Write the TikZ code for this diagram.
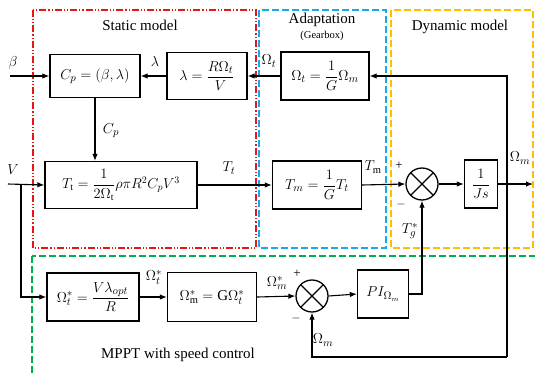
\documentclass[tikz,border=0pt]{standalone}
\usepackage{amsmath}
\usepackage{fontspec}
\setmainfont{Liberation Serif}
\usetikzlibrary{arrows.meta,calc,positioning}

\definecolor{redbox}{RGB}{235,20,20}
\definecolor{bluebox}{RGB}{20,170,235}
\definecolor{yellowbox}{RGB}{255,190,0}
\definecolor{greenbox}{RGB}{0,175,80}

\begin{document}
\begin{tikzpicture}[x=1pt,y=-1pt]

\tikzset{block/.style = {draw,line width=1.3pt,inner sep=1pt,font=\fontsize{15}{17}\selectfont}}
\tikzset{summer/.style = {draw,circle,line width=1.3pt,minimum size=32pt,inner sep=0pt,
  path picture={\draw[line width=1.3pt] (path picture bounding box.north west) -- (path picture bounding box.south east)
  (path picture bounding box.north east) -- (path picture bounding box.south west);}}}
\tikzset{edge1/.style = {-{Latex[length=7pt,width=5.5pt]},line width=1.1pt}}
\tikzset{wire/.style = {line width=1.1pt}}
\tikzset{lbl/.style = {font=\fontsize{15}{17}\selectfont}}
\tikzset{sign/.style = {font=\fontsize{13}{15}\selectfont}}

\useasboundingbox (0,0) rectangle (535,375);

% regions
\draw[redbox,line width=1.1pt,dash pattern=on 7pt off 2pt on 1.2pt off 2pt on 1.2pt off 2pt]
  (33,10) rectangle (256,248);
\draw[bluebox,line width=1.1pt,dash pattern=on 7pt off 3pt]
  (259,10) rectangle (386,248);
\draw[yellowbox,line width=1.1pt,dash pattern=on 7pt off 3pt]
  (391,10) rectangle (533,248);
\draw[greenbox,line width=1.1pt,dash pattern=on 7pt off 3pt]
  (32,256) rectangle (545,385);

\node[lbl] (static) at (140,25) {Static model};
\node[lbl] (adapt) at (322,20) {Adaptation};
\node[font=\fontsize{10.5}{12}\selectfont] (gear) at (322,36) {(Gearbox)};
\node[lbl] (dyn) at (460,27) {Dynamic model};
\node[lbl] (mppt) at (178,355) {MPPT with speed control};

% blocks
\node[block,minimum width=90pt,minimum height=43pt] (cp) at (95,76) {$C_p=(\beta,\lambda)$};
\node[block,minimum width=80pt,minimum height=47pt] (lam) at (207,76) {$\lambda=\dfrac{R\Omega_t}{V}$};
\node[block,minimum width=88pt,minimum height=48pt] (omt) at (325,76) {$\Omega_t=\dfrac{1}{G}\Omega_m$};
\node[block,minimum width=152pt,minimum height=47pt,font=\fontsize{14}{16}\selectfont] (tt) at (121,185) {$T_{\mathrm t}=\dfrac{1}{2\Omega_{\mathrm t}}\rho\pi R^2C_pV^3$};
\node[block,minimum width=89pt,minimum height=48pt] (tm) at (317,185) {$T_m=\dfrac{1}{G}T_t$};
\node[summer] (s1) at (422,184) {};
\node[block,minimum width=33pt,minimum height=48pt] (js) at (481,184) {$\dfrac{1}{Js}$};
\node[block,minimum width=92pt,minimum height=48pt] (otstar) at (93,297) {$\Omega_t^*=\dfrac{V\lambda_{opt}}{R}$};
\node[block,minimum width=89pt,minimum height=49pt] (omstar) at (212,297) {$\Omega_{\mathrm m}^*=\mathrm{G}\Omega_t^*$};
\node[summer] (s2) at (312,296) {};
\node[block,minimum width=51pt,minimum height=48pt] (pi) at (383,294) {$PI_{\Omega_m}$};

\coordinate (beta) at (10,76);
\coordinate (vin) at (8,184);
\coordinate (vsplit) at (21,184);
\coordinate (om) at (507,184);
\coordinate (out) at (533,184);
\coordinate (fb) at (507,357);

% edges
\draw[edge1] (beta) -- (cp.west);
\draw[edge1] (lam.west) -- (cp.west -| cp.east);
\draw[edge1] (omt.west) -- (lam.east);
\draw[edge1] (cp.south) -- (cp.south |- tt.north);
\draw[edge1] (vin) -- (tt.west);
\draw[edge1] (vsplit) |- (otstar.west);
\draw[edge1] (tt.east) -- (tm.west);
\draw[edge1] (tm.east) -- (s1.west);
\draw[edge1] (s1.east) -- (js.west);
\draw[edge1] (js.east) -- (out);
\draw[edge1] (om) |- (omt.east);
\draw[wire] (om) -- (fb);
\draw[edge1] (fb) -| (s2.south);
\draw[edge1] (otstar.east) -- (omstar.west);
\draw[edge1] (omstar.east) -- (s2.west);
\draw[edge1] (s2.east) -- (pi.west);
\draw[edge1] (pi.east) -| (s1.south);

% labels
\node[lbl] (lbeta) at (13,63) {$\beta$};
\node[lbl] (llam) at (155,61) {$\lambda$};
\node[lbl] (lomt) at (269,61) {$\Omega_t$};
\node[lbl] (lcp) at (111,131) {$C_p$};
\node[lbl] (lv) at (13,170) {$V$};
\node[lbl] (ltt) at (229,168) {$T_t$};
\node[lbl] (ltm) at (373,167) {$T_{\mathrm m}$};
\node[sign] (p1) at (399,166) {+};
\node[sign] (m1) at (401,204) {$-$};
\node[lbl] (ltg) at (410,231) {$T_g^*$};
\node[lbl] (lom) at (520,158) {$\Omega_m$};
\node[lbl] (lots) at (154,277) {$\Omega_t^*$};
\node[lbl] (loms) at (277,283) {$\Omega_m^*$};
\node[sign] (p2) at (297,274) {+};
\node[sign] (m2) at (296,318) {$-$};
\node[lbl] (lomfb) at (323,340) {$\Omega_m$};

\end{tikzpicture}
\end{document}
